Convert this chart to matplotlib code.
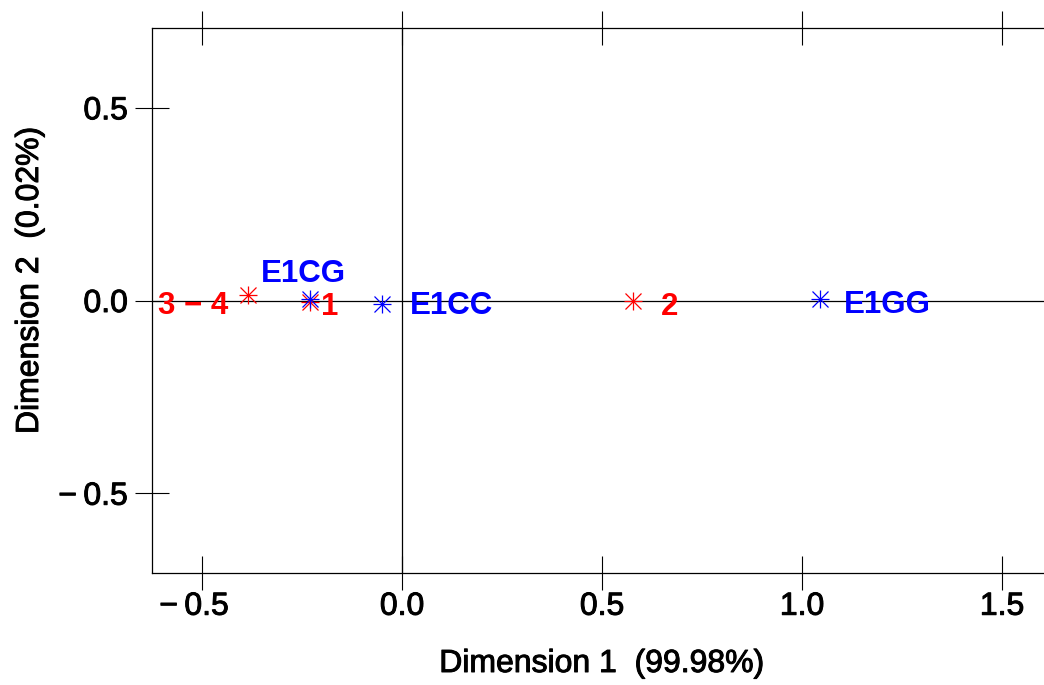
import matplotlib
matplotlib.use("Agg")
import matplotlib.pyplot as plt
import matplotlib.patheffects as pe
from matplotlib.transforms import ScaledTranslation

plt.rcParams['font.family'] = ['Liberation Sans', 'DejaVu Sans']

# Row points (red) and column points (blue)
row_labels = ["1", "2", "3 \u2212 4"]
row_dim1 = [-0.23, 0.578, -0.385]
row_dim2 = [-0.003, 0.0, 0.013]

col_labels = ["E1CC", "E1CG", "E1GG"]
col_dim1 = [-0.05, -0.23, 1.045]
col_dim2 = [-0.010, 0.005, 0.003]

xticks = [-0.5, 0.0, 0.5, 1.0, 1.5]
yticks = [-0.5, 0.0, 0.5]
xlabel = "Dimension 1  (99.98%)"
ylabel = "Dimension 2  (0.02%)"

# label offsets in points (style)
row_offsets = [(14.4, -1.1), (25.9, -1.8), (-39.2, -4.8)]
col_offsets = [(49.7, 1.1), (-5.0, 20.2), (48.6, -1.8)]

W, H = 1044, 685
fig = plt.figure(figsize=(W / 100, H / 100), dpi=100)
ax = fig.add_axes([152 / W, (H - 573) / H, 900 / W, 545 / H])
ax.set_xlim(-0.625, 1.625)
ax.set_ylim(-0.707, 0.707)

ax.axhline(0, color='black', lw=0.9, zorder=1)
ax.axvline(0, color='black', lw=0.9, zorder=1)

for xs, ys, c in [(row_dim1, row_dim2, 'red'), (col_dim1, col_dim2, 'blue')]:
    ax.plot(xs, ys, linestyle='none', marker='+', ms=13, mew=0.9, color=c, zorder=3)
    ax.plot(xs, ys, linestyle='none', marker='x', ms=12, mew=0.9, color=c, zorder=3)

for labs, xs, ys, offs, c in [(row_labels, row_dim1, row_dim2, row_offsets, 'red'),
                               (col_labels, col_dim1, col_dim2, col_offsets, 'blue')]:
    for lab, x, y, off in zip(labs, xs, ys, offs):
        ax.annotate(lab, (x, y), xytext=off, textcoords='offset points',
                    ha='center', va='center_baseline', color=c,
                    fontsize=22.5, fontweight='bold', zorder=4)

stroke = [pe.withStroke(linewidth=0.7, foreground='black')]

def fmt(v):
    s = f"{v:.1f}"
    return s.replace('-', '\u2212\u2009') if v < 0 else s

ax.set_xticks(xticks)
ax.set_yticks(yticks)
ax.set_xticklabels([fmt(v) for v in xticks])
ax.set_yticklabels([fmt(v) for v in yticks])
ax.tick_params(axis='x', which='both', direction='inout', length=24, width=0.8,
               top=True, labeltop=False, labelsize=23, pad=1.5)
ax.tick_params(axis='y', which='both', direction='inout', length=24, width=0.8,
               right=False, labelsize=23, pad=5.5)
for lab in ax.get_xticklabels() + ax.get_yticklabels():
    lab.set_path_effects(stroke)
for lab, v in zip(ax.get_xticklabels(), xticks):
    if v < 0:
        lab.set_transform(lab.get_transform() + ScaledTranslation(-0.08, 0, fig.dpi_scale_trans))
for s in ['left', 'top', 'bottom']:
    ax.spines[s].set_linewidth(0.9)
ax.spines['right'].set_visible(False)

fig.text(602 / W, (H - 664) / H, xlabel, ha='center', va='center', fontsize=23,
         path_effects=stroke)
fig.text(30 / W, (H - 280) / H, ylabel, ha='center', va='center', rotation=90,
         fontsize=23, path_effects=stroke)

fig.savefig("out.png", dpi=100)
